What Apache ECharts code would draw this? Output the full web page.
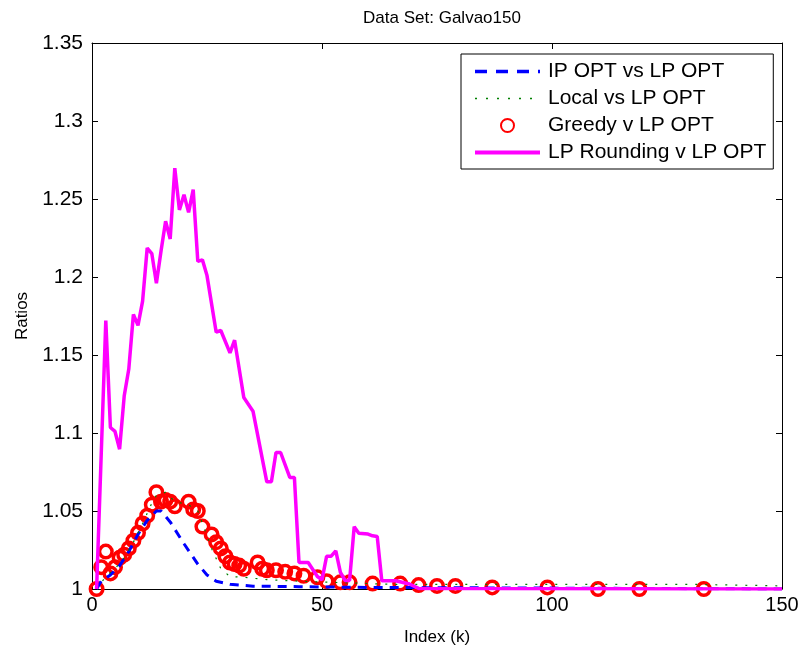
<!DOCTYPE html>
<html>
<head>
<meta charset="utf-8">
<script src="https://cdn.jsdelivr.net/npm/echarts@6/dist/echarts.min.js"></script>
<style>
html,body{margin:0;padding:0;background:#fff;}
#chart{width:807px;height:651px;}
</style>
</head>
<body>
<div id="chart"></div>
<script>
const titleText = 'Data Set: Galvao150';
const xName = 'Index (k)';
const yName = 'Ratios';
const seriesNames = ['IP OPT vs LP OPT', 'Local vs LP OPT', 'Greedy v LP OPT', 'LP Rounding v LP OPT'];

// [index, ratio]
const ipOpt = [[1,1.0],[2,1.005],[4,1.009],[6,1.015],[8,1.024],[10,1.035],[12,1.044],[14,1.050],[15,1.050],[17,1.043],[20,1.029],[23,1.016],[25,1.009],[27,1.005],[30,1.003],[35,1.0018],[45,1.0015],[60,1.001],[150,1.0]];

const local = [[1,1.0],[3,1.008],[5,1.013],[7,1.02],[9,1.03],[11,1.042],[13,1.055],[14,1.060],[16,1.062],[18,1.056],[21,1.054],[23,1.050],[24,1.042],[26,1.026],[28,1.013],[30,1.008],[33,1.0075],[38,1.006],[45,1.005],[55,1.004],[65,1.003],[80,1.003],[100,1.003],[130,1.003],[150,1.002]];

const greedy = [[1,1.000],[2,1.014],[3,1.024],[4,1.010],[5,1.014],[6,1.020],[7,1.022],[8,1.026],[9,1.031],[10,1.036],[11,1.042],[12,1.047],[13,1.054],[14,1.062],[15,1.056],[16,1.057],[17,1.056],[18,1.053],[21,1.056],[22,1.051],[23,1.050],[24,1.040],[26,1.035],[27,1.030],[28,1.026],[29,1.021],[30,1.017],[31,1.016],[32,1.015],[33,1.013],[36,1.017],[37,1.013],[38,1.012],[40,1.012],[42,1.011],[44,1.010],[46,1.0085],[49,1.0075],[51,1.005],[54,1.0043],[56,1.0043],[61,1.0035],[67,1.0035],[71,1.0025],[75,1.002],[79,1.002],[87,1.001],[99,1.001],[110,1.0],[119,1.0],[133,1.0]];

const lpRounding = [[1,1.000],[3,1.172],[4,1.1035],[5,1.101],[6,1.0896],[7,1.1237],[8,1.141],[9,1.176],[10,1.169],[11,1.1845],[12,1.2186],[13,1.215],[14,1.196],[15,1.2165],[16,1.2357],[17,1.2244],[18,1.2698],[19,1.243],[20,1.2527],[21,1.2414],[22,1.256],[23,1.210],[24,1.211],[25,1.2009],[27,1.1646],[28,1.1657],[30,1.1514],[31,1.1595],[33,1.1227],[35,1.114],[38,1.0687],[39,1.0687],[40,1.0875],[41,1.0875],[43,1.0715],[44,1.0715],[45,1.017],[47,1.017],[49,1.008],[50,1.0058],[51,1.021],[52,1.021],[53,1.0245],[54,1.0107],[55,1.0055],[56,1.0055],[57,1.0399],[58,1.0358],[60,1.0352],[61,1.0341],[62,1.0337],[63,1.0053],[66,1.0053],[69,1.0032],[71,1.0004],[150,1.0]];

const xMin = 0, xMax = 150, xStep = 50;
const yMin = 1, yMax = 1.35, yStep = 0.05;

const FONT = '"Liberation Sans", Arial, Helvetica, sans-serif';
const chart = echarts.init(document.getElementById('chart'), null, {renderer: 'canvas'});

const axisCommon = {
  axisLine: {show: true, onZero: false, lineStyle: {color: '#000', width: 1}},
  axisTick: {show: true, inside: true, length: 6, lineStyle: {color: '#000', width: 1}},
  splitLine: {show: false}
};

const noSymbol = {opacity: 0};

chart.setOption({
  animation: false,
  backgroundColor: '#fff',
  textStyle: {fontFamily: FONT, color: '#000'},
  title: {
    text: titleText, left: 437, top: 5, textAlign: 'center',
    textStyle: {fontFamily: FONT, fontWeight: 'normal', fontSize: 17, color: '#000'}
  },
  grid: {left: 92, top: 43, width: 690, height: 547, containLabel: false},
  legend: {
    orient: 'vertical', left: 461, top: 54,
    padding: [7, 7, 6, 12],
    borderColor: '#000', borderWidth: 1, backgroundColor: '#fff',
    itemWidth: 65, itemHeight: 13, itemGap: 6,
    textStyle: {fontFamily: FONT, fontSize: 21, color: '#000', padding: [0, 0, 0, 3]},
    data: [
      {name: seriesNames[0], itemStyle: noSymbol, lineStyle: {width: 3.5, type: [12, 9], color: '#0000ff'}},
      {name: seriesNames[1], itemStyle: noSymbol, lineStyle: {width: 1.5, type: [2, 9], color: '#008000'}},
      {name: seriesNames[2]},
      {name: seriesNames[3], itemStyle: noSymbol, lineStyle: {width: 4, color: '#ff00ff'}}
    ]
  },
  xAxis: [
    Object.assign({type: 'value', min: xMin, max: xMax, interval: xStep, position: 'bottom',
      name: xName, nameLocation: 'middle', nameGap: 40,
      nameTextStyle: {fontFamily: FONT, fontSize: 17, color: '#000'},
      axisLabel: {fontFamily: FONT, fontSize: 20, color: '#000', margin: 6}}, axisCommon),
    Object.assign({type: 'value', min: xMin, max: xMax, interval: xStep, position: 'top',
      axisLabel: {show: false}}, axisCommon)
  ],
  yAxis: [
    Object.assign({type: 'value', min: yMin, max: yMax, interval: yStep, position: 'left',
      name: yName, nameLocation: 'middle', nameGap: 60,
      nameTextStyle: {fontFamily: FONT, fontSize: 17, color: '#000'},
      axisLabel: {fontFamily: FONT, fontSize: 21, color: '#000', margin: 9}}, axisCommon),
    Object.assign({type: 'value', min: yMin, max: yMax, interval: yStep, position: 'right',
      axisLabel: {show: false}}, axisCommon)
  ],
  series: [
    {name: seriesNames[0], type: 'line', data: ipOpt, symbol: 'none', xAxisIndex: 0, yAxisIndex: 0,
      lineStyle: {color: '#0000ff', width: 3, type: [9, 7]}, itemStyle: {color: '#0000ff'}},
    {name: seriesNames[1], type: 'line', data: local, symbol: 'none', xAxisIndex: 0, yAxisIndex: 0,
      lineStyle: {color: '#008000', width: 1.2, type: [2, 8]}, itemStyle: {color: '#008000'}},
    {name: seriesNames[2], type: 'scatter', data: greedy, symbol: 'circle', symbolSize: 12.5, xAxisIndex: 0, yAxisIndex: 0,
      itemStyle: {color: 'rgba(0,0,0,0)', borderColor: '#ff0000', borderWidth: 3.5, opacity: 1}},
    {name: seriesNames[3], type: 'line', data: lpRounding, symbol: 'none', xAxisIndex: 0, yAxisIndex: 0,
      lineStyle: {color: '#ff00ff', width: 3.5}, itemStyle: {color: '#ff00ff'}}
  ]
});
</script>
</body>
</html>
